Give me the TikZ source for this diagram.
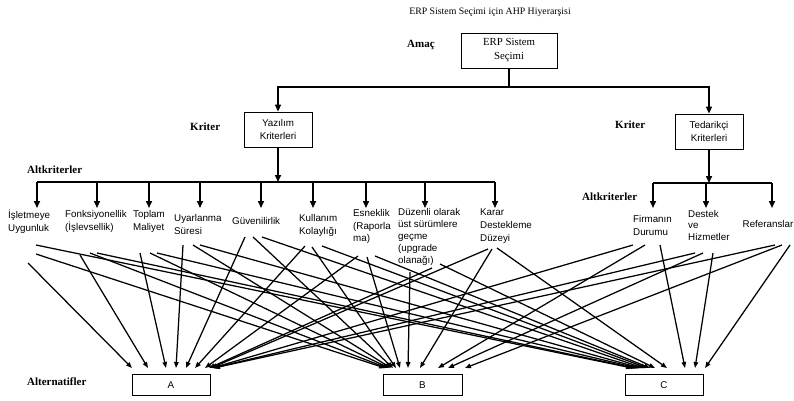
\documentclass[tikz,border=0pt]{standalone}
\usepackage{fontspec}
\setmainfont{Liberation Serif}
\setsansfont{Liberation Sans}
\usetikzlibrary{arrows.meta}
\begin{document}
\begin{tikzpicture}[x=1pt,y=-1pt,
  lbl/.style={font=\fontsize{11}{12}\selectfont\bfseries, anchor=west, inner sep=0pt},
  sub/.style={font=\sffamily\fontsize{9.8}{12.8}\selectfont, align=left, anchor=north west, inner sep=0pt},
  box/.style={draw, line width=0.8pt, inner sep=0pt, align=center},
  serifbox/.style={box, font=\fontsize{10.8}{14}\selectfont},
  sansbox/.style={box, font=\sffamily\fontsize{9.8}{13}\selectfont},
  tree/.style={line width=1.5pt, -{Triangle[length=7pt,width=6pt]}},
  bus/.style={line width=1.5pt},
  link/.style={line width=1.25pt, -{Triangle[length=6pt,width=4.5pt]}},
]
\useasboundingbox (0,0) rectangle (794,400);

% title and level labels
\node[font=\fontsize{9.8}{11}\selectfont] (title) at (490,12) {ERP Sistem Seçimi için AHP Hiyerarşisi};
\node[lbl] (amac) at (407,45) {Amaç};
\node[lbl] (kr1) at (190,127) {Kriter};
\node[lbl] (kr2) at (615,125) {Kriter};
\node[lbl] (alt1) at (27,170) {Altkriterler};
\node[lbl] (alt2) at (582,197) {Altkriterler};
\node[lbl] (alts) at (27,382) {Alternatifler};

% boxes
\node[serifbox, minimum width=96pt, minimum height=35pt] (erp) at (509,50.5) {ERP Sistem\\Seçimi};
\node[sansbox, minimum width=68pt, minimum height=35pt] (yaz) at (278,129.5) {Yazılım\\Kriterleri};
\node[sansbox, minimum width=68pt, minimum height=35pt] (ted) at (709,131.5) {Tedarikçi\\Kriterleri};
\node[sansbox, minimum width=78pt, minimum height=21pt] (A) at (171,385) {A};
\node[sansbox, minimum width=79pt, minimum height=21pt] (B) at (422.5,385) {B};
\node[sansbox, minimum width=78pt, minimum height=21pt] (C) at (664,385) {C};

% subcriteria
\node[sub] (s1) at (8,210) {İşletmeye\\Uygunluk};
\node[sub] (s2) at (65,210) {Fonksiyonellik\\(İşlevsellik)};
\node[sub] (s3) at (133,210) {Toplam\\Maliyet};
\node[sub] (s4) at (174,214) {Uyarlanma\\Süresi};
\node[sub] (s5) at (232,217) {Güvenilirlik};
\node[sub] (s6) at (299,214) {Kullanım\\Kolaylığı};
\node[sub] (s7) at (353,209) {Esneklik\\(Raporla\\ma)};
\node[sub, font=\sffamily\fontsize{9.8}{12}\selectfont] (s8) at (398,208) {Düzenli olarak\\üst sürümlere\\geçme\\(upgrade\\olanağı)};
\node[sub] (s9) at (480,209) {Karar\\Destekleme\\Düzeyi};
\node[sub] (s10) at (633,215) {Firmanın\\Durumu};
\node[sub, font=\sffamily\fontsize{9.8}{11.5}\selectfont] (s11) at (688,210) {Destek\\ve\\Hizmetler};
\node[sub] (s12) at (742.5,220) {Referanslar};

% tree connectors
\coordinate (bus0) at (0,87);
\coordinate (bus1) at (0,182);
\coordinate (bus2) at (0,183);
\draw[bus] (erp.south) -- (erp.south |- bus0);
\draw[tree] (erp.south |- bus0) -| (yaz.north);
\draw[tree] (erp.south |- bus0) -| (ted.north);
\draw[tree] (yaz.south) -- (yaz.south |- bus1);
\draw[tree] (ted.south) -- (ted.south |- bus2);
\foreach \n/\x in {1/37,2/97,3/149,4/200,5/261,6/313,7/366,8/425,9/495}
  \coordinate (t\n) at (\x,208);
\foreach \n/\x in {10/653,11/706,12/772}
  \coordinate (t\n) at (\x,208);
\draw[bus] (t1 |- bus1) -- (t9 |- bus1);
\draw[bus] (t10 |- bus2) -- (t12 |- bus2);
\foreach \n in {1,...,9} \draw[tree] (t\n |- bus1) -- (t\n);
\foreach \n in {10,11,12} \draw[tree] (t\n |- bus2) -- (t\n);

% links from subcriteria to alternatives
\foreach \sx/\sy/\tx in {28/263/132, 80/255/148, 140/253/166, 183/245/176,
    245/237/186, 305/246/195, 358/256/205, 432/268/209, 488/249/211,
    633/245/212, 695/253/213, 775/245/214}
  \draw[link] (\sx,\sy) -- (\tx,368);
\foreach \sx/\sy/\tx in {36/254/385, 90/253/387, 150/253/389, 193/245/391,
    253/237/393, 312/247/396, 367/257/400, 410/272/408, 492/249/420,
    645/245/438, 703/253/448, 782/245/465}
  \draw[link] (\sx,\sy) -- (\tx,368);
\foreach \sx/\sy/\tx in {36/245/632, 97/253/634, 157/253/637, 200/245/640,
    262/237/643, 322/246/647, 375/256/650, 440/264/655, 497/248/667,
    660/245/685, 713/253/695, 790/245/705}
  \draw[link] (\sx,\sy) -- (\tx,368);
\end{tikzpicture}
\end{document}
